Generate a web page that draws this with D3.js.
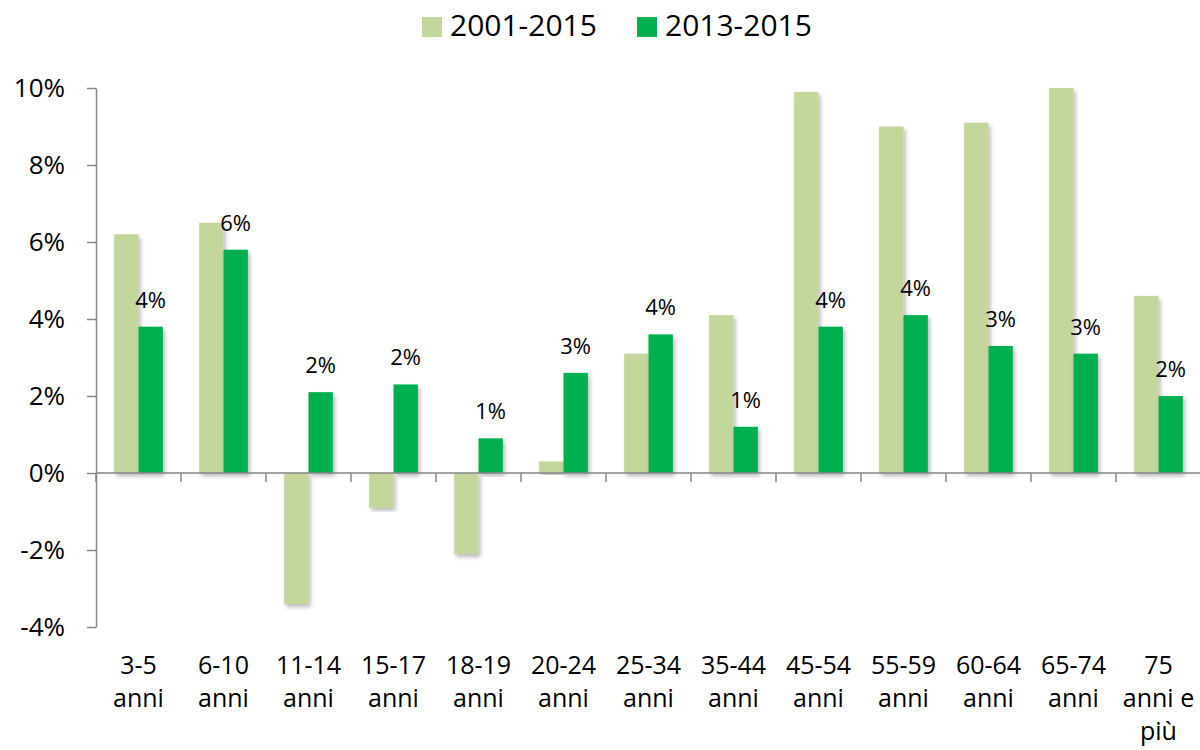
<!DOCTYPE html>
<html>
<head>
<meta charset="utf-8">
<script src="https://cdn.jsdelivr.net/npm/d3@7"></script>
<style>
  body { margin: 0; background: #fff; }
  svg { font-family: "Open Sans", sans-serif; }
</style>
</head>
<body>
<div id="chart"></div>
<script>
const LIGHT_COLOR = "#c3d69b";
const DARK_COLOR = "#00b050";
const AXIS_COLOR = "#868686";

const categories = [
    ["3-5", "anni"], ["6-10", "anni"], ["11-14", "anni"], ["15-17", "anni"],
    ["18-19", "anni"], ["20-24", "anni"], ["25-34", "anni"], ["35-44", "anni"],
    ["45-54", "anni"], ["55-59", "anni"], ["60-64", "anni"], ["65-74", "anni"],
    ["75", "anni e", "più"]
];
const seriesNames = ["2001-2015", "2013-2015"];
const values2001 = [6.2, 6.5, -3.4, -0.9, -2.1, 0.3, 3.1, 4.1, 9.9, 9.0, 9.1, 10.0, 4.6];
const values2013 = [3.8, 5.8, 2.1, 2.3, 0.9, 2.6, 3.6, 1.2, 3.8, 4.1, 3.3, 3.1, 2.0];
const labels2013 = ["4%", "6%", "2%", "2%", "1%", "3%", "4%", "1%", "4%", "4%", "3%", "3%", "2%"];
const yTicks = [-4, -2, 0, 2, 4, 6, 8, 10];

const width = 1200;
const height = 750;

const svg = d3.select("#chart")
    .append("svg")
    .attr("width", width)
    .attr("height", height);

// soft shadow like the office chart
const filter = svg.append("defs")
    .append("filter")
    .attr("id", "shadow")
    .attr("x", "-20%").attr("y", "-5%")
    .attr("width", "160%").attr("height", "115%");
filter.append("feDropShadow")
    .attr("dx", 2)
    .attr("dy", 3)
    .attr("stdDeviation", 2)
    .attr("flood-color", "#000")
    .attr("flood-opacity", 0.28);

const keys = categories.map(c => c.join(" "));
const data = keys.map((k, i) => ({
    key: k,
    values: [
        { series: seriesNames[0], value: values2001[i] },
        { series: seriesNames[1], value: values2013[i], label: labels2013[i] }
    ]
}));

const x0 = d3.scaleBand()
    .domain(keys)
    .range([96, 1201])
    .padding(0);

const x1 = d3.scaleBand()
    .domain(seriesNames)
    .range([0, x0.bandwidth()])
    .paddingInner(0)
    .paddingOuter(0.745);

const y = d3.scaleLinear()
    .domain([-4, 10])
    .range([627, 88]);

const color = d3.scaleOrdinal(seriesNames, [LIGHT_COLOR, DARK_COLOR]);

// bars
const groups = svg.append("g")
    .selectAll("g")
    .data(data)
    .join("g")
    .attr("transform", d => "translate(" + x0(d.key) + ",0)");

groups.selectAll("rect")
    .data(d => d.values)
    .join("rect")
    .attr("x", d => x1(d.series))
    .attr("y", d => y(Math.max(0, d.value)))
    .attr("width", x1.bandwidth())
    .attr("height", d => Math.abs(y(d.value) - y(0)))
    .attr("fill", d => color(d.series))
    .attr("filter", "url(#shadow)");

// data labels for the 2013-2015 series
groups.append("text")
    .datum(d => d.values[1])
    .attr("x", d => x1(d.series) + x1.bandwidth() / 2)
    .attr("y", d => y(d.value) - 19)
    .attr("text-anchor", "middle")
    .attr("font-size", 22)
    .attr("fill", "#000")
    .text(d => d.label);

// y axis
const yAxis = d3.axisLeft(y)
    .tickValues(yTicks)
    .tickSize(9)
    .tickSizeOuter(0)
    .tickPadding(22)
    .tickFormat(d => d + "%");

const gy = svg.append("g")
    .attr("transform", "translate(96,0)")
    .call(yAxis);
gy.select(".domain").attr("stroke", AXIS_COLOR).attr("stroke-width", 1.5);
gy.selectAll(".tick line").attr("stroke", AXIS_COLOR).attr("stroke-width", 1.5);
gy.selectAll(".tick text")
    .attr("font-size", 26)
    .attr("font-family", "Open Sans")
    .attr("fill", "#000");

// x axis at zero, ticks on the category boundaries
const boundaries = keys.map(k => x0(k)).concat([x0.range()[1]]);
const gx = svg.append("g");
gx.append("line")
    .attr("x1", x0.range()[0])
    .attr("x2", x0.range()[1])
    .attr("y1", y(0))
    .attr("y2", y(0))
    .attr("stroke", AXIS_COLOR)
    .attr("stroke-width", 1.5);
gx.selectAll("line.tick")
    .data(boundaries)
    .join("line")
    .attr("class", "tick")
    .attr("x1", d => d)
    .attr("x2", d => d)
    .attr("y1", y(0))
    .attr("y2", y(0) + 9)
    .attr("stroke", AXIS_COLOR)
    .attr("stroke-width", 1.5);

// category labels, placed low
svg.append("g")
    .selectAll("text")
    .data(categories)
    .join("text")
    .attr("x", (d, i) => x0(keys[i]) + x0.bandwidth() / 2)
    .attr("y", 674)
    .attr("text-anchor", "middle")
    .attr("font-size", 25)
    .attr("fill", "#000")
    .selectAll("tspan")
    .data(d => d)
    .join("tspan")
    .attr("x", function() { return this.parentNode.getAttribute("x"); })
    .attr("dy", (d, i) => i == 0 ? 0 : 33)
    .text(d => d);

// legend
const legendPos = [422, 637];
const legend = svg.append("g")
    .selectAll("g")
    .data(seriesNames)
    .join("g")
    .attr("transform", (d, i) => "translate(" + legendPos[i] + ",17)");
legend.append("rect")
    .attr("width", 20)
    .attr("height", 20)
    .attr("fill", d => color(d));
legend.append("text")
    .attr("x", 28)
    .attr("y", 19)
    .attr("font-size", 30)
    .attr("fill", "#000")
    .text(d => d);
</script>
</body>
</html>
